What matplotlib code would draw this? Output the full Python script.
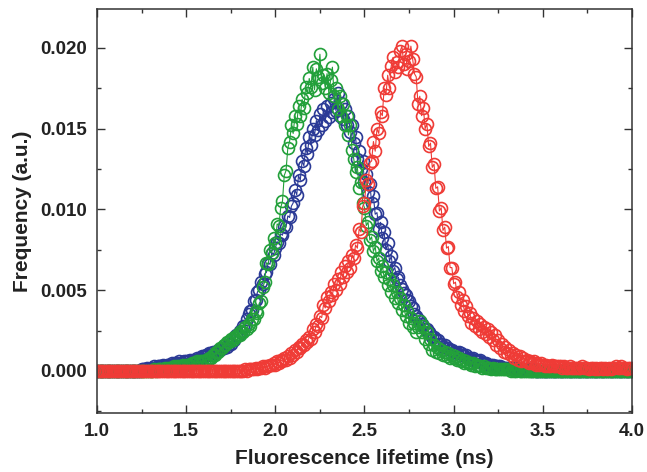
import numpy as np
import matplotlib
matplotlib.use("Agg")
import matplotlib.pyplot as plt
from matplotlib.ticker import MultipleLocator

# Fluorescence lifetime grid (ns), 0.01 ns steps from 1.00 to 4.00
lifetime = np.round(np.arange(100, 401) / 100.0, 2)

blue = [
    0, 0, 0, 0, 0, 0, 0, 0, 0, 0,
    0, 0, 0, 0, 0, 0, 0, 0, 0, 0,
    0, 0, 0, 0, 0, .0001, .0001, .0001, .0002, .0001,
    .0002, .0002, .0003, .0002, .0003, .0003, .0003, .0004, .0003, .0004,
    .0004, .0004, .0005, .0004, .0005, .0005, .0006, .0005, .0005, .0006,
    .0006, .0006, .0007, .0006, .0007, .0007, .0008, .0007, .0008, .0009,
    .0009, .0010, .0010, .0011, .0011, .0012, .0011, .0012, .0013, .0013,
    .0014, .0014, .0016, .0015, .0017, .0017, .0019, .0019, .0022, .0022,
    .0025, .0024, .0028, .0028, .0032, .0035, .0037, .0038, .0043, .0044,
    .0049, .0050, .0055, .0054, .0060, .0061, .0067, .0066, .0073, .0072,
    .0076, .0080, .0079, .0085, .0084, .0090, .0089, .0096, .0095, .0102,
    .0104, .0112, .0109, .0121, .0118, .0130, .0127, .0138, .0134, .0145,
    .0140, .0150, .0146, .0155, .0149, .0159, .0152, .0162, .0155, .0164,
    .0157, .0166, .0160, .0168, .0161, .0172, .0158, .0166, .0156, .0162,
    .0152, .0158, .0148, .0152, .0141, .0145, .0131, .0136, .0125, .0130,
    .0117, .0122, .0111, .0116, .0104, .0108, .0097, .0098, .0088, .0092,
    .0082, .0086, .0075, .0079, .0068, .0071, .0062, .0064, .0057, .0058,
    .0053, .0051, .0048, .0047, .0044, .0043, .0040, .0039, .0035, .0034,
    .0032, .0031, .0029, .0028, .0026, .0026, .0024, .0023, .0021, .0021,
    .0019, .0019, .0017, .0017, .0015, .0016, .0014, .0014, .0013, .0013,
    .0012, .0012, .0011, .0012, .0011, .0010, .0009, .0010, .0008, .0008,
    .0007, .0008, .0007, .0006, .0006, .0007, .0005, .0005, .0005, .0004,
    .0004, .0004, .0004, .0003, .0003, .0003, .0003, .0002, .0002, .0002,
    .0002, .0002, .0002, .0001, .0001, .0002, .0001, .0001, .0001, .0001,
    .0001, .0001, .0001, .0001, 0, .0001, 0, 0, 0, 0,
    0, 0, 0, 0, 0, 0, 0, 0, 0, 0,
    0, 0, 0, 0, 0, 0, 0, 0, 0, 0,
    0, 0, 0, 0, 0, 0, 0, 0, 0, 0,
    0, 0, 0, 0, 0, 0, 0, 0, 0, 0,
    0, 0, 0, 0, 0, 0, 0, 0, 0, 0,
    0,
]

green = [
    0, 0, 0, 0, 0, 0, 0, 0, 0, 0,
    0, 0, 0, 0, 0, 0, 0, 0, 0, 0,
    0, 0, 0, 0, 0, 0, 0, 0, 0, 0,
    0, 0, .0001, 0, .0001, .0001, .0001, .0001, .0002, .0001,
    .0002, .0002, .0002, .0003, .0002, .0003, .0003, .0003, .0004, .0003,
    .0004, .0004, .0004, .0005, .0005, .0005, .0006, .0005, .0006, .0006,
    .0006, .0007, .0007, .0008, .0008, .0010, .0010, .0012, .0012, .0014,
    .0014, .0016, .0016, .0018, .0018, .0020, .0019, .0021, .0021, .0023,
    .0022, .0025, .0024, .0027, .0026, .0029, .0028, .0032, .0032, .0037,
    .0036, .0042, .0043, .0052, .0055, .0067, .0066, .0075, .0073, .0082,
    .0079, .0091, .0090, .0101, .0105, .0121, .0124, .0138, .0142, .0152,
    .0147, .0158, .0153, .0164, .0158, .0168, .0163, .0176, .0172, .0181,
    .0176, .0188, .0174, .0187, .0182, .0196, .0178, .0183, .0175, .0184,
    .0172, .0180, .0188, .0170, .0175, .0162, .0170, .0158, .0165, .0152,
    .0158, .0146, .0152, .0137, .0131, .0123, .0126, .0113, .0117, .0104,
    .0101, .0090, .0092, .0081, .0083, .0074, .0077, .0068, .0070, .0062,
    .0065, .0058, .0061, .0053, .0057, .0049, .0053, .0045, .0049, .0042,
    .0045, .0038, .0041, .0034, .0037, .0030, .0033, .0027, .0030, .0024,
    .0027, .0031, .0024, .0028, .0020, .0024, .0017, .0020, .0013, .0016,
    .0012, .0014, .0011, .0013, .0010, .0012, .0009, .0011, .0008, .0010,
    .0008, .0009, .0007, .0008, .0006, .0007, .0005, .0006, .0005, .0005,
    .0004, .0005, .0003, .0004, .0003, .0003, .0002, .0003, .0002, .0002,
    .0002, .0001, .0002, .0001, .0001, .0001, .0001, .0001, .0001, .0001,
    .0001, .0001, 0, .0001, 0, 0, .0001, 0, 0, 0,
    0, 0, 0, 0, 0, 0, 0, 0, 0, 0,
    0, 0, 0, 0, 0, 0, 0, 0, 0, 0,
    0, 0, 0, 0, 0, 0, 0, 0, 0, 0,
    0, 0, 0, 0, 0, 0, 0, 0, 0, 0,
    0, 0, 0, 0, 0, 0, 0, 0, 0, 0,
    0, 0, 0, 0, 0, 0, 0, 0, 0, 0,
    0,
]

red = [
    0, 0, 0, 0, 0, 0, 0, 0, 0, 0,
    0, 0, 0, 0, 0, 0, 0, 0, 0, 0,
    0, 0, 0, 0, 0, 0, 0, 0, 0, 0,
    0, 0, 0, 0, 0, 0, 0, 0, 0, 0,
    0, 0, 0, 0, 0, 0, 0, 0, 0, 0,
    0, 0, 0, 0, 0, 0, 0, 0, 0, 0,
    0, 0, 0, 0, 0, 0, 0, 0, 0, 0,
    0, 0, 0, 0, 0, 0, 0, 0, 0, 0,
    0, 0, 0, .0001, 0, .0001, .0001, .0001, .0001, .0002,
    .0001, .0002, .0002, .0003, .0002, .0003, .0003, .0004, .0004, .0005,
    .0004, .0006, .0005, .0007, .0006, .0008, .0007, .0009, .0008, .0011,
    .0010, .0013, .0012, .0015, .0014, .0017, .0016, .0019, .0018, .0021,
    .0020, .0026, .0024, .0029, .0028, .0034, .0033, .0041, .0039, .0046,
    .0043, .0049, .0047, .0054, .0050, .0057, .0054, .0061, .0058, .0065,
    .0061, .0068, .0064, .0072, .0070, .0078, .0076, .0088, .0086, .0102,
    .0104, .0118, .0116, .0129, .0130, .0142, .0136, .0150, .0147, .0160,
    .0158, .0175, .0171, .0183, .0175, .0189, .0194, .0185, .0191, .0188,
    .0198, .0201, .0190, .0196, .0187, .0192, .0201, .0193, .0184, .0182,
    .0165, .0170, .0158, .0163, .0150, .0153, .0139, .0141, .0126, .0128,
    .0113, .0114, .0099, .0101, .0087, .0089, .0076, .0077, .0064, .0064,
    .0054, .0055, .0046, .0049, .0041, .0044, .0037, .0040, .0034, .0036,
    .0030, .0033, .0028, .0031, .0026, .0029, .0024, .0027, .0023, .0026,
    .0021, .0024, .0019, .0022, .0016, .0019, .0014, .0017, .0012, .0015,
    .0011, .0013, .0010, .0011, .0008, .0010, .0007, .0009, .0006, .0008,
    .0006, .0007, .0005, .0006, .0005, .0006, .0004, .0005, .0004, .0005,
    .0004, .0003, .0004, .0003, .0003, .0004, .0003, .0003, .0003, .0003,
    .0003, .0002, .0003, .0002, .0002, .0003, .0002, .0002, .0002, .0002,
    .0002, .0002, .0003, .0002, .0002, .0002, .0001, .0002, .0002, .0001,
    .0002, .0001, .0002, .0002, .0001, .0002, .0001, .0002, .0001, .0002,
    .0002, .0003, .0002, .0002, .0003, .0002, .0002, .0001, .0002, .0002,
    .0002,
]

x_ticks = [1.0, 1.5, 2.0, 2.5, 3.0, 3.5, 4.0]
y_ticks = [0.000, 0.005, 0.010, 0.015, 0.020]

series = [
    (blue, "#2b3a96"),
    (green, "#22a03a"),
    (red, "#ef3b36"),
]

plt.rcParams["font.family"] = ["Liberation Sans", "DejaVu Sans"]
plt.rcParams["font.weight"] = "bold"

fig = plt.figure(figsize=(6.47, 4.72), dpi=100)
ax = fig.add_axes([97 / 647, 1 - 413 / 472, (632 - 97) / 647, (413 - 9) / 472])

for vals, col in series:
    ax.plot(lifetime, vals, "-", color=col, lw=0.8, marker="o", ms=8.6,
            mfc="none", mec=col, mew=1.2, clip_on=True)

ax.set_xlim(1.0, 4.0)
ax.set_ylim(-0.0026, 0.0224)
ax.set_xticks(x_ticks)
ax.set_xticklabels([f"{v:.1f}" for v in x_ticks])
ax.set_yticks(y_ticks)
ax.set_yticklabels([f"{v:.3f}" for v in y_ticks])
ax.xaxis.set_minor_locator(MultipleLocator(0.25))
ax.yaxis.set_minor_locator(MultipleLocator(0.0025))

for s in ax.spines.values():
    s.set_linewidth(1.1)
    s.set_color("#333333")
ax.tick_params(which="both", direction="in", top=True, right=True,
               colors="#333333", width=1.0, labelcolor="#222222")
ax.tick_params(which="major", length=6, labelsize=13.5, pad=7)
ax.tick_params(which="minor", length=3)
for lab in ax.get_xticklabels() + ax.get_yticklabels():
    lab.set_fontweight("bold")

ax.set_xlabel("Fluorescence lifetime (ns)", fontsize=15, fontweight="bold",
              color="#222222", labelpad=7)
ax.set_ylabel("Frequency (a.u.)", fontsize=15, fontweight="bold",
              color="#222222", labelpad=6)

fig.savefig("out.png", dpi=100)
